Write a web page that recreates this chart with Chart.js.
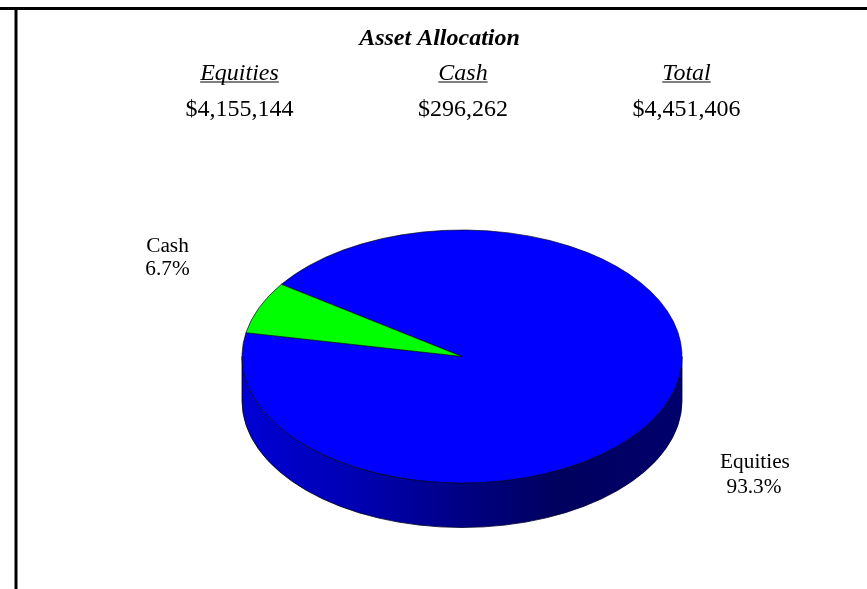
<!DOCTYPE html>
<html>
<head>
<meta charset="utf-8">
<style>html,body{margin:0;padding:0;background:#fff;overflow:hidden}canvas{display:block}</style>
<script src="https://cdn.jsdelivr.net/npm/chart.js@4"></script>
</head>
<body>
<div style="width:867px;height:589px"><canvas id="c" width="867" height="589"></canvas></div>
<script>
const chartTitle = 'Asset Allocation';
const headers = ['Equities', 'Cash', 'Total'];
const headerValues = ['$4,155,144', '$296,262', '$4,451,406'];
const categories = ['Equities', 'Cash'];
const values = [4155144, 296262];
const sliceColors = ['#0000ff', '#00ff00'];
const percentLabels = ['93.3%', '6.7%'];

const serif = '"Liberation Serif","Times New Roman",serif';
const CY = 356.5, RY = 126.5, DEPTH = 44.5;

function tilt(ctx, arc) {
  ctx.translate(0, CY);
  ctx.scale(1, RY / arc.outerRadius);
  ctx.translate(0, -arc.y);
}

const pie3d = {
  id: 'pie3d',
  beforeDatasetsDraw(chart) {
    const ctx = chart.ctx;
    ctx.save();
    ctx.fillStyle = '#000';
    ctx.fillRect(0, 7, 867, 3);
    ctx.fillRect(14.5, 7, 3, 582);
    ctx.restore();
    chart.getDatasetMeta(0).data.forEach(arc => {
      const R = arc.outerRadius, x = arc.x;
      for (let k = -1; k <= 2; k++) {
        const a0 = Math.max(arc.startAngle, 2 * Math.PI * k);
        const a1 = Math.min(arc.endAngle, 2 * Math.PI * k + Math.PI);
        if (a1 <= a0) continue;
        const g = ctx.createLinearGradient(x - R, 0, x + R, 0);
        g.addColorStop(0, '#0000d4');
        g.addColorStop(0.25, '#0000b4');
        g.addColorStop(0.5, '#000084');
        g.addColorStop(0.72, '#00005e');
        g.addColorStop(1, '#00006c');
        ctx.save();
        ctx.beginPath();
        ctx.ellipse(x, CY, R, RY, 0, a0, a1);
        ctx.ellipse(x, CY + DEPTH, R, RY, 0, a1, a0, true);
        ctx.closePath();
        ctx.fillStyle = g;
        ctx.fill();
        ctx.strokeStyle = 'rgba(0,0,40,0.8)';
        ctx.lineWidth = 1;
        ctx.stroke();
        ctx.restore();
      }
    });
    const first = chart.getDatasetMeta(0).data[0];
    ctx.save();
    tilt(ctx, first);
  },
  afterDatasetsDraw(chart) {
    const ctx = chart.ctx;
    ctx.restore();
    ctx.save();
    ctx.fillStyle = '#000';
    ctx.textBaseline = 'alphabetic';
    ctx.textAlign = 'center';
    ctx.font = 'italic bold 24px ' + serif;
    ctx.fillText(chartTitle, 439.5, 45);
    const xs = [239.5, 463, 686.5];
    ctx.font = 'italic 24px ' + serif;
    headers.forEach((h, i) => {
      ctx.fillText(h, xs[i], 80);
      const w = ctx.measureText(h).width;
      ctx.fillRect(xs[i] - w / 2, 81.5, w, 1);
    });
    ctx.font = '24px ' + serif;
    headerValues.forEach((v, i) => ctx.fillText(v, xs[i], 116));
    ctx.font = '21.3px ' + serif;
    ctx.fillText(categories[1], 167.5, 252);
    ctx.fillText(percentLabels[1], 167.5, 275);
    ctx.fillText(categories[0], 755, 468);
    ctx.fillText(percentLabels[0], 754, 493);
    ctx.restore();
  }
};

new Chart(document.getElementById('c'), {
  type: 'pie',
  data: {
    labels: categories,
    datasets: [{
      data: values,
      backgroundColor: sliceColors,
      borderColor: 'rgba(0,0,30,0.85)',
      borderWidth: 1
    }]
  },
  options: {
    responsive: false,
    animation: false,
    rotation: 304.8,
    layout: { padding: { left: 241.5, right: 184.5, top: 74, bottom: 74 } },
    plugins: { legend: { display: false }, tooltip: { enabled: false }, title: { display: false } }
  },
  plugins: [pie3d]
});
</script>
</body>
</html>
